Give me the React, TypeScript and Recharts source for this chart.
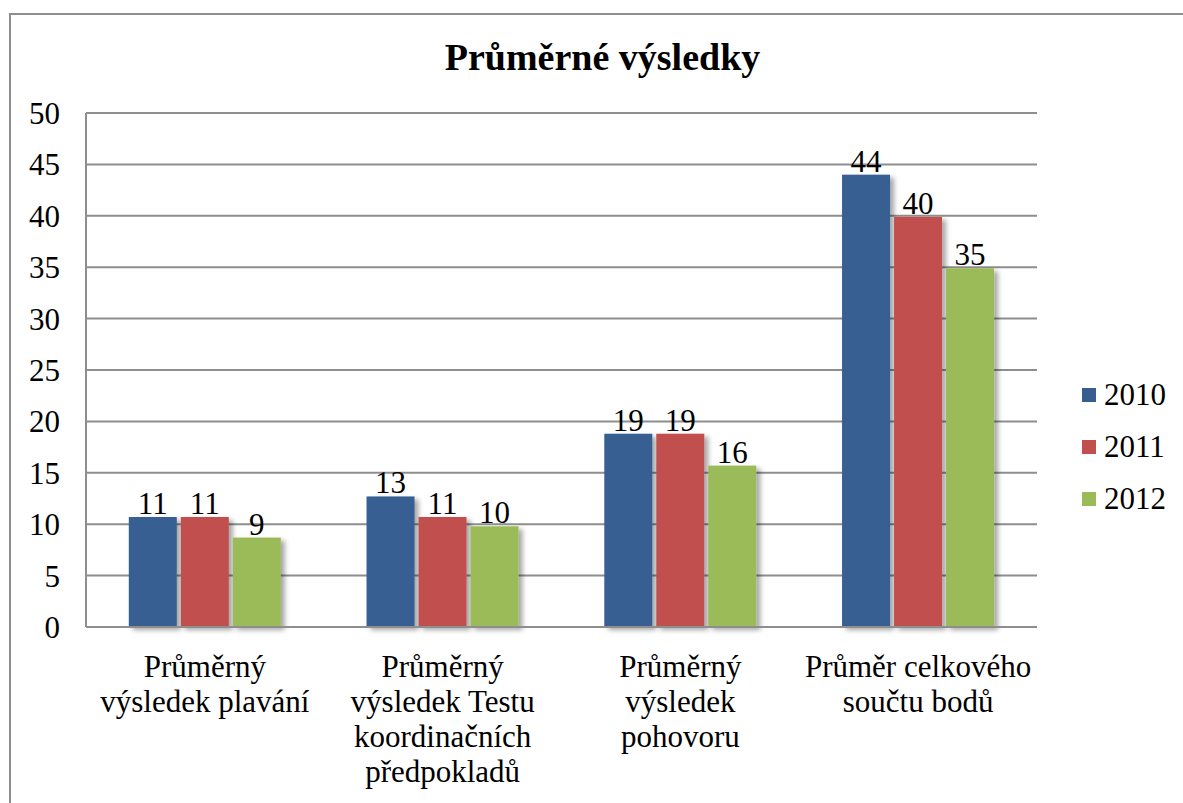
import React from "react";
import { BarChart, Bar, XAxis, YAxis, CartesianGrid, LabelList, Legend } from "recharts";

const categories = [
  "Průměrný\nvýsledek plavání",
  "Průměrný\nvýsledek Testu\nkoordinačních\npředpokladů",
  "Průměrný\nvýsledek\npohovoru",
  "Průměr celkového\nsoučtu bodů",
];
const series2010 = [10.7, 12.7, 18.8, 44.0];
const series2011 = [10.7, 10.7, 18.8, 39.9];
const series2012 = [8.7, 9.8, 15.7, 34.9];
const yTicks = [0, 5, 10, 15, 20, 25, 30, 35, 40, 45, 50];
const seriesNames = ["2010", "2011", "2012"];
const seriesColors = ["#385E91", "#C0504D", "#9BBB59"];
const title = "Průměrné výsledky";

const data = categories.map((c, i) => ({
  name: c,
  s2010: series2010[i],
  s2011: series2011[i],
  s2012: series2012[i],
}));

const FONT = '"Liberation Serif", "Times New Roman", serif';

const XTick = (props: any) => {
  const { x, y, payload } = props;
  const lines = String(payload.value).split("\n");
  return (
    <text x={x} y={y} textAnchor="middle" fontFamily="Liberation Serif" style={{ fontFamily: FONT }} fontSize={31} fill="#000">
      {lines.map((l, i) => (
        <tspan key={i} x={x} dy={i === 0 ? 50 : 35}>
          {l}
        </tspan>
      ))}
    </text>
  );
};

const YTick = (props: any) => {
  const { x, y, payload } = props;
  return (
    <text x={x} y={y} dy={11} textAnchor="end" fontFamily="Liberation Serif" style={{ fontFamily: FONT }} fontSize={31} fill="#000">
      {payload.value}
    </text>
  );
};

const BarLabel = (props: any) => {
  const { x, y, width, value } = props;
  return (
    <text x={x + width / 2} y={y - 3} textAnchor="middle" fontFamily="Liberation Serif" style={{ fontFamily: FONT }} fontSize={31} fill="#000">
      {Math.round(Number(value))}
    </text>
  );
};

const ShadowBar = (props: any) => {
  const { x, y, width, height, fill } = props;
  if (!height || height <= 0) return null;
  return <rect x={x} y={y} width={width} height={height} fill={fill} filter="url(#barShadow)" />;
};

const renderLegend = () => (
  <div style={{ fontFamily: FONT, fontSize: 31, color: "#000" }}>
    {seriesNames.map((n, i) => (
      <div key={n} style={{ display: "flex", alignItems: "center", height: 52 }}>
        <div style={{ width: 14, height: 14, background: seriesColors[i], marginRight: 8 }} />
        <span style={{ fontFamily: FONT }}>{n}</span>
      </div>
    ))}
  </div>
);

export default function App() {
  const keys = ["s2010", "s2011", "s2012"];
  return (
    <div style={{ position: "absolute", left: 0, top: 0, width: 1183, height: 803, overflow: "hidden", background: "#fff", fontFamily: FONT }}>
      <div
        style={{
          position: "absolute",
          left: 9,
          top: 13,
          width: 1300,
          height: 1000,
          borderTop: "2px solid #8e8e8e",
          borderLeft: "2px solid #8e8e8e",
        }}
      />
      <div
        style={{
          position: "absolute",
          left: 0,
          top: 35,
          width: 1205,
          textAlign: "center",
          fontFamily: FONT,
          fontWeight: "bold",
          fontSize: 38,
          lineHeight: "44px",
        }}
      >
        {title}
      </div>
      <div style={{ position: "absolute", left: 0, top: 0 }}>
        <BarChart
          width={1183}
          height={803}
          data={data}
          margin={{ top: 113, right: 46, bottom: 0, left: 0 }}
          barCategoryGap="18%"
          barGap={4}
          style={{ fontFamily: FONT }}
        >
          <defs>
            <filter id="barShadow" x="-20%" y="-10%" width="150%" height="130%">
              <feDropShadow dx="4" dy="3" stdDeviation="2.5" floodColor="#000" floodOpacity="0.35" />
            </filter>
          </defs>
          <CartesianGrid vertical={false} stroke="#8e8e8e" strokeWidth={2} />
          <XAxis
            dataKey="name"
            tick={<XTick />}
            tickLine={false}
            tickSize={0}
            tickMargin={0}
            axisLine={{ stroke: "#8e8e8e", strokeWidth: 2 }}
            interval={0}
            height={176}
          />
          <YAxis
            domain={[0, 50]}
            ticks={yTicks}
            width={86}
            tickLine={false}
            tickSize={0}
            tickMargin={26}
            axisLine={{ stroke: "#8e8e8e", strokeWidth: 2 }}
            tick={<YTick />}
            interval={0}
          />
          <Legend
            layout="horizontal"
            verticalAlign="middle"
            align="right"
            content={renderLegend}
            wrapperStyle={{ left: 1082, top: 369, width: 100, height: 160 }}
          />
          {keys.map((k, i) => (
            <Bar
              key={k}
              dataKey={k}
              name={seriesNames[i]}
              fill={seriesColors[i]}
              isAnimationActive={false}
              shape={<ShadowBar />}
            >
              <LabelList dataKey={k} content={<BarLabel />} />
            </Bar>
          ))}
        </BarChart>
      </div>
    </div>
  );
}
